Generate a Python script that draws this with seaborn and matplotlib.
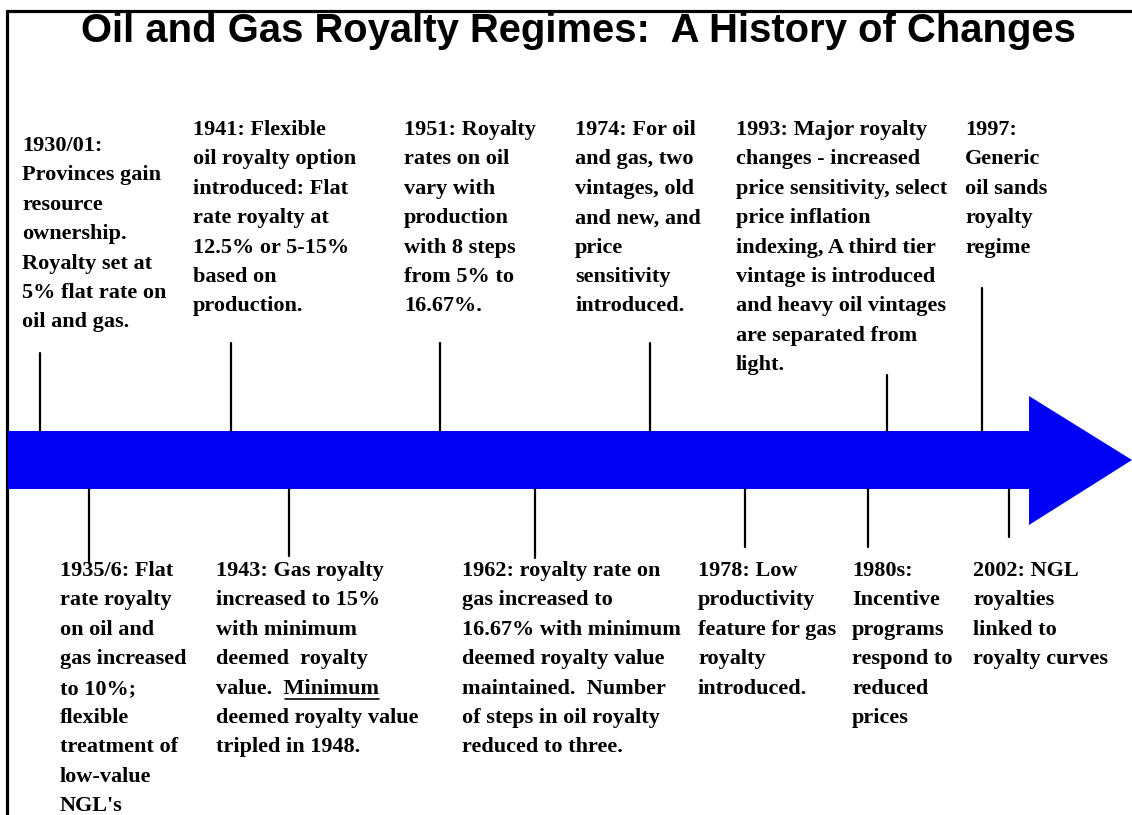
import matplotlib
matplotlib.use("Agg")
import matplotlib.pyplot as plt
import seaborn as sns
import pandas as pd
from matplotlib.patches import Polygon

# ---------------- data ----------------
title = "Oil and Gas Royalty Regimes:  A History of Changes"

upper_events = ["1930/01", "1941", "1951", "1974", "1993", "1997"]
upper_texts = [
    ["1930/01:", "Provinces gain", "resource", "ownership.", "Royalty set at", "5% flat rate on", "oil and gas."],
    ["1941: Flexible", "oil royalty option", "introduced: Flat", "rate royalty at", "12.5% or 5-15%", "based on", "production."],
    ["1951: Royalty", "rates on oil", "vary with", "production", "with 8 steps", "from 5% to", "16.67%."],
    ["1974: For oil", "and gas, two", "vintages, old", "and new, and", "price", "sensitivity", "introduced."],
    ["1993: Major royalty", "changes - increased", "price sensitivity, select", "price inflation",
     "indexing, A third tier", "vintage is introduced", "and heavy oil vintages", "are separated from", "light."],
    ["1997:", "Generic", "oil sands", "royalty", "regime"],
]

lower_events = ["1935/6", "1943", "1962", "1978", "1980s", "2002"]
lower_texts = [
    ["1935/6: Flat", "rate royalty", "on oil and", "gas increased", "to 10%;", "flexible", "treatment of", "low-value", "NGL's"],
    ["1943: Gas royalty", "increased to 15%", "with minimum", "deemed  royalty", "value.  Minimum",
     "deemed royalty value", "tripled in 1948."],
    ["1962: royalty rate on", "gas increased to", "16.67% with minimum", "deemed royalty value",
     "maintained.  Number", "of steps in oil royalty", "reduced to three."],
    ["1978: Low", "productivity", "feature for gas", "royalty", "introduced."],
    ["1980s:", "Incentive", "programs", "respond to", "reduced", "prices"],
    ["2002: NGL", "royalties", "linked to", "royalty curves"],
]

# ---------------- layout (pixel space) ----------------
W, H = 1132, 815
upper_stem_x = [40, 231, 440, 650, 887, 982]
upper_stem_top = [353, 343, 343, 343, 375, 288]
upper_text_x = [22, 193, 404, 575, 736, 965]
upper_text_top = [136, 120, 120, 120, 120, 120]

lower_stem_x = [89, 289, 535, 745, 868, 1009]
lower_stem_bot = [563, 556, 558, 547, 547, 537]
lower_text_x = [60, 216, 462, 698, 852, 973]
lower_text_top = [561, 561, 561, 561, 561, 561]

shaft_top, shaft_bot = 431, 489
head_x, head_top, head_bot, tip = 1029, 396, 525, (1132, 460)
pitch = 29.4
fs = 16
arrow_color = "#0000F4"

sns.set_theme(style="white")
plt.rcParams["font.family"] = ["Liberation Serif", "DejaVu Serif"]

fig = plt.figure(figsize=(W / 100, H / 100), dpi=100)
ax = fig.add_axes([0, 0, 1, 1])
ax.set_xlim(0, W)
ax.set_ylim(H, 0)
ax.axis("off")

# border
ax.plot([6, W], [10.5, 10.5], color="black", lw=2.3, solid_capstyle="butt")
ax.plot([6.5, 6.5], [9.5, H], color="black", lw=2.3, solid_capstyle="butt")

# arrow
ax.add_patch(Polygon([(8, shaft_top), (head_x, shaft_top), (head_x, head_top), tip,
                      (head_x, head_bot), (head_x, shaft_bot), (8, shaft_bot)],
                     closed=True, facecolor=arrow_color, edgecolor="none", zorder=2))

# stems via seaborn
rows = []
for ev, x, t in zip(upper_events, upper_stem_x, upper_stem_top):
    rows += [dict(event=ev, x=x, y=t), dict(event=ev, x=x, y=shaft_top)]
for ev, x, b in zip(lower_events, lower_stem_x, lower_stem_bot):
    rows += [dict(event=ev, x=x, y=shaft_bot), dict(event=ev, x=x, y=b)]
stems = pd.DataFrame(rows)
sns.lineplot(data=stems, x="x", y="y", units="event", estimator=None, sort=False,
             color="black", lw=1.6, ax=ax, zorder=3)
ax.set_xlim(0, W)
ax.set_ylim(H, 0)
ax.axis("off")

# title
ax.text(578, 31, title, ha="center", va="center", fontsize=28.8, fontweight="bold",
        family=["Liberation Sans", "DejaVu Sans"], color="black")

txt_kw = dict(fontsize=fs, fontweight="bold", color="black", ha="left", va="top", zorder=4)

def block(lines, x, top):
    for i, ln in enumerate(lines):
        ax.text(x, top + i * pitch, ln, **txt_kw)

for lines, x, t in zip(upper_texts, upper_text_x, upper_text_top):
    block(lines, x, t)
for lines, x, t in zip(lower_texts, lower_text_x, lower_text_top):
    block(lines, x, t)

# underline "Minimum" in 1943 entry
fig.canvas.draw()
r = fig.canvas.get_renderer()
li = 4
line_y = lower_text_top[1] + li * pitch
pre = ax.text(lower_text_x[1], line_y, "value.  ", **txt_kw)
word = ax.text(lower_text_x[1], line_y, "Minimum", **txt_kw)
bb_pre = pre.get_window_extent(r)
bb_word = word.get_window_extent(r)
pre.remove(); word.remove()
inv = ax.transData.inverted()
x0 = inv.transform((bb_pre.x1, 0))[0]
x1 = x0 + (bb_word.x1 - bb_word.x0) * (W / fig.bbox.width)
uy = line_y + fs * 1.389 * 0.92
ax.plot([x0 + 1, x1], [uy, uy], color="black", lw=1.2)

fig.savefig("out.png", dpi=100, facecolor="white")
